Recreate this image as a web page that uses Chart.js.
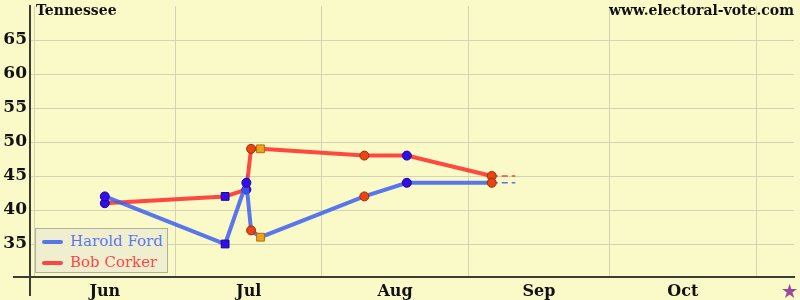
<!DOCTYPE html>
<html>
<head>
<meta charset="utf-8">
<script src="https://cdn.jsdelivr.net/npm/chart.js@4"></script>
<style>
  body { margin: 0; background: #fafac8; }
  #wrap { position: relative; width: 800px; height: 300px; }
  #legend {
    position: absolute; left: 35px; top: 228px; width: 133px; height: 45px;
    background: #efefd0; border: 1px solid #b0b098; box-sizing: border-box;
    font: 15px "DejaVu Serif", serif;
  }
  .item { position: absolute; left: 0; height: 20px; line-height: 20px; white-space: nowrap; }
  .item span.swatch { position: absolute; left: 6px; top: 9px; width: 21px; height: 4px; border-radius: 2px; }
  .item span.text { position: absolute; left: 34px; top: 0; }
</style>
</head>
<body>
<div id="wrap">
  <canvas id="chart" width="800" height="300"></canvas>
  <div id="legend"></div>
</div>
<script>
// days counted from June 1st
const monthStarts = [0, 30, 61, 92, 122, 153];
const monthLabels = ["Jun", "Jul", "Aug", "Sep", "Oct"];
const electionDay = 160;

const pollDays = [15, 40.5, 45, 46, 48, 70, 79, 97];
const fordValues = [42, 35, 44, 37, 36, 42, 44, 44];
const corkerValues = [41, 42, 43, 49, 49, 48, 48, 45];
const pollMarkers = ["circle", "rect", "circle", "circle", "rect", "circle", "circle", "circle"];
const pollColors = ["blue", "blue", "blue", "red", "orange", "red", "blue", "red"];

const projectionDays = [97, 102];
const fordProjection = [44, 44];
const corkerProjection = [45, 45];

const yTicks = [30, 35, 40, 45, 50, 55, 60, 65, 70];
const seriesNames = ["Harold Ford", "Bob Corker"];
const seriesColors = ["rgba(60,95,240,0.85)", "rgba(255,40,40,0.85)"];

const markerFill = { blue: "#3010e6", red: "#e84414", orange: "#f0a020" };
const markerEdge = { blue: "#2000a0", red: "#a03000", orange: "#b07000" };

const gridColor = "#d4d4b4";
const font = '"DejaVu Serif", serif';

function toPoints(days, values) {
  return days.map((d, i) => ({ x: d, y: values[i] }));
}

function lineSet(label, values, color) {
  return {
    label: label,
    data: toPoints(pollDays, values),
    borderColor: color,
    borderWidth: 4,
    tension: 0,
    pointStyle: pollMarkers,
    pointRadius: pollMarkers.map((m) => (m === "rect" ? 5.5 : 4.5)),
    pointBackgroundColor: pollColors.map((c) => markerFill[c]),
    pointBorderColor: pollColors.map((c) => markerEdge[c]),
    pointBorderWidth: 1,
  };
}

function dashSet(values, color) {
  return {
    label: "",
    data: toPoints(projectionDays, values),
    borderColor: color,
    borderWidth: 1.5,
    borderDash: [6, 4],
    pointRadius: 0,
  };
}

const labelTicks = monthLabels.map((m, i) => (monthStarts[i] + monthStarts[i + 1]) / 2);
labelTicks.push(electionDay);
const labelTexts = monthLabels.concat(["\u2605"]);

const xMin = -0.85;
const xMax = 161.05;

// background, axis lines and the two captions
const framePlugin = {
  id: "frame",
  beforeDraw(chart) {
    const ctx = chart.ctx;
    ctx.save();
    ctx.fillStyle = "#fafac8";
    ctx.fillRect(0, 0, chart.width, chart.height);
    ctx.restore();
  },
  beforeDatasetsDraw(chart) {
    const ctx = chart.ctx;
    const a = chart.chartArea;
    ctx.save();
    ctx.strokeStyle = "#3c3c34";
    ctx.lineWidth = 2;
    ctx.beginPath();
    ctx.moveTo(a.left, 5);
    ctx.lineTo(a.left, 296);
    ctx.moveTo(13, a.bottom - 1);
    ctx.lineTo(a.right + 1, a.bottom - 1);
    ctx.stroke();
    ctx.fillStyle = "#111";
    ctx.font = "bold 14px " + font;
    ctx.textBaseline = "alphabetic";
    ctx.textAlign = "left";
    ctx.fillText("Tennessee", 36, 15);
    ctx.textAlign = "right";
    ctx.fillText("www.electoral-vote.com", 794, 15);
    ctx.restore();
  },
};

new Chart(document.getElementById("chart"), {
  type: "line",
  data: {
    datasets: [
      lineSet(seriesNames[0], fordValues, seriesColors[0]),
      lineSet(seriesNames[1], corkerValues, seriesColors[1]),
      dashSet(fordProjection, seriesColors[0]),
      dashSet(corkerProjection, seriesColors[1]),
    ],
  },
  options: {
    responsive: false,
    animation: false,
    layout: { padding: { left: 0, right: 6, top: 6, bottom: 0 } },
    plugins: { legend: { display: false }, tooltip: { enabled: false } },
    scales: {
      x: {
        type: "linear",
        min: xMin,
        max: xMax,
        afterBuildTicks: (s) => { s.ticks = monthStarts.map((v) => ({ value: v })); },
        ticks: { display: false },
        grid: { color: gridColor, drawTicks: false },
        border: { display: false },
        afterFit: (s) => { s.height = 0; s.paddingLeft = 0; s.paddingRight = 0; },
      },
      xl: {
        type: "linear",
        position: "bottom",
        min: xMin,
        max: xMax,
        afterBuildTicks: (s) => { s.ticks = labelTicks.map((v) => ({ value: v })); },
        ticks: {
          autoSkip: false,
          maxRotation: 0,
          padding: 4,
          callback: (v, i) => labelTexts[i],
          color: (c) => (c.index === labelTexts.length - 1 ? "#9a4a9a" : "#111"),
          font: (c) => ({ family: font, weight: "bold", size: c.index === labelTexts.length - 1 ? 17 : 16 }),
        },
        grid: { display: false, drawTicks: false },
        border: { display: false },
        afterFit: (s) => { s.height = 22; s.paddingLeft = 0; s.paddingRight = 0; },
      },
      y: {
        min: 30,
        max: 70,
        afterBuildTicks: (s) => { s.ticks = yTicks.map((v) => ({ value: v })); },
        ticks: {
          padding: 3,
          color: "#111",
          font: { family: font, weight: "bold", size: 17 },
          callback: (v) => (v === 30 || v === 70 ? null : v),
        },
        grid: { color: gridColor, drawTicks: false },
        border: { display: false },
        afterFit: (s) => { s.width = 30; s.paddingTop = 0; s.paddingBottom = 0; },
      },
    },
  },
  plugins: [framePlugin],
});

// legend box inside the plot
const legend = document.getElementById("legend");
seriesNames.forEach((name, i) => {
  const row = document.createElement("div");
  row.className = "item";
  row.style.top = 2 + i * 21 + "px";
  row.innerHTML = `<span class="swatch" style="background:${seriesColors[i]}"></span>` +
    `<span class="text" style="color:${seriesColors[i]}">${name}</span>`;
  legend.appendChild(row);
});
</script>
</body>
</html>
